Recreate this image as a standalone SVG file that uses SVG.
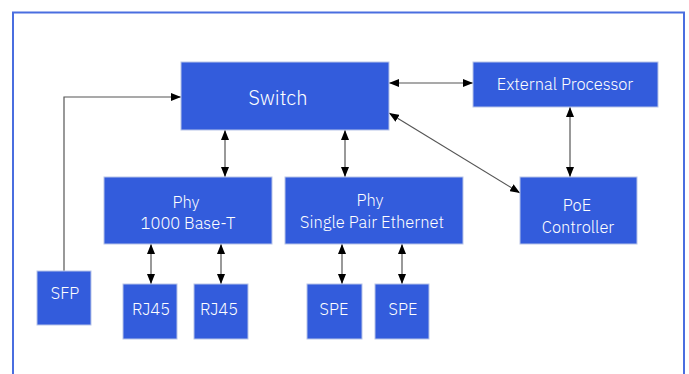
<svg xmlns="http://www.w3.org/2000/svg" width="689" height="374" viewBox="0 0 689 374">
<defs>
<marker id="ah" viewBox="0 0 10 8" refX="10" refY="4" markerWidth="10" markerHeight="8" markerUnits="userSpaceOnUse" orient="auto-start-reverse">
<path d="M0,0 L10,4 L0,8 Z" fill="#000"/>
</marker>
</defs>
<style>
.box{fill:#335cdc;stroke:#b8c4e8;stroke-width:1}
.t{fill:#fff;font-family:"IBM Plex Sans",Inter,"Noto Sans","Liberation Sans",sans-serif;font-size:16.5px;font-weight:300;text-anchor:middle;dominant-baseline:central}
.big{font-size:20px}
.c{fill:none;stroke:#555;stroke-width:1.2}
</style>
<rect x="0" y="0" width="689" height="374" fill="#fff"/>
<rect id="frame" x="13" y="12.5" width="671" height="380" fill="none" stroke="#4a6ee0" stroke-width="2"/>
<g id="connectors">
<path class="c" d="M64,271 V97 H181" marker-end="url(#ah)"/>
<path class="c" d="M389,83 H473" marker-start="url(#ah)" marker-end="url(#ah)"/>
<path class="c" d="M570,107 V177" marker-start="url(#ah)" marker-end="url(#ah)"/>
<path class="c" d="M389,113 L520,193" marker-start="url(#ah)" marker-end="url(#ah)"/>
<path class="c" d="M225,130 V177" marker-start="url(#ah)" marker-end="url(#ah)"/>
<path class="c" d="M345,130 V177" marker-start="url(#ah)" marker-end="url(#ah)"/>
<path class="c" d="M151,244 V284" marker-start="url(#ah)" marker-end="url(#ah)"/>
<path class="c" d="M221,244 V284" marker-start="url(#ah)" marker-end="url(#ah)"/>
<path class="c" d="M342,244 V284" marker-start="url(#ah)" marker-end="url(#ah)"/>
<path class="c" d="M402,244 V284" marker-start="url(#ah)" marker-end="url(#ah)"/>
</g>
<g id="switch"><rect class="box" x="181" y="62" width="208" height="68"/><text class="t big" x="278" y="97">Switch</text></g>
<g id="extproc"><rect class="box" x="473" y="62" width="185" height="45"/><text class="t" x="565" y="84">External Processor</text></g>
<g id="phy1000"><rect class="box" x="104" y="177" width="168" height="67"/><text class="t" x="186" y="202">Phy</text><text class="t" x="188" y="223">1000 Base-T</text></g>
<g id="physpe"><rect class="box" x="285" y="177" width="178" height="67"/><text class="t" x="370" y="200">Phy</text><text class="t" x="372" y="222">Single Pair Ethernet</text></g>
<g id="poe"><rect class="box" x="520" y="177" width="117" height="67"/><text class="t" x="577" y="205">PoE</text><text class="t" x="578" y="227">Controller</text></g>
<g id="sfp"><rect class="box" x="37" y="271" width="54" height="54"/><text class="t" x="65" y="293">SFP</text></g>
<g id="rj45a"><rect class="box" x="123" y="284" width="54" height="55"/><text class="t" x="151" y="309">RJ45</text></g>
<g id="rj45b"><rect class="box" x="194" y="284" width="54" height="55"/><text class="t" x="219" y="309">RJ45</text></g>
<g id="spea"><rect class="box" x="307" y="284" width="55" height="55"/><text class="t" x="334" y="309">SPE</text></g>
<g id="speb"><rect class="box" x="375" y="284" width="54" height="55"/><text class="t" x="403" y="309">SPE</text></g>
</svg>
